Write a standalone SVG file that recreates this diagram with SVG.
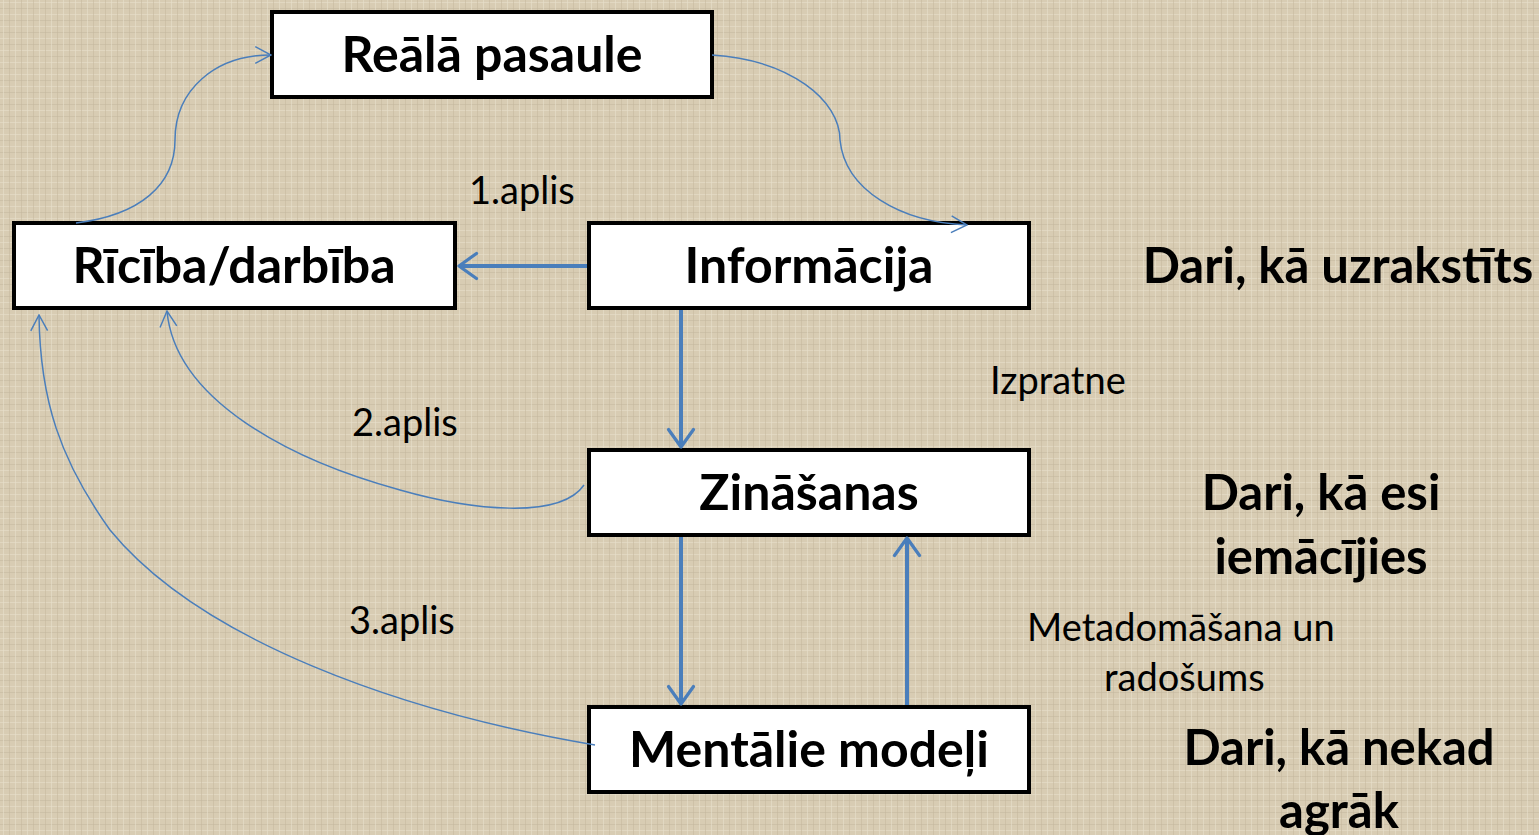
<svg xmlns="http://www.w3.org/2000/svg" width="1539" height="835" viewBox="0 0 1539 835">
<defs>
<pattern id="linen" width="12" height="12" patternUnits="userSpaceOnUse">
<rect width="12" height="12" fill="#d8ccb3"/>
<rect x="0" y="2" width="12" height="1" fill="#e6dcc8" opacity="0.7"/>
<rect x="0" y="8" width="12" height="1" fill="#c6b9a0" opacity="0.6"/>
<rect x="3" y="0" width="1" height="12" fill="#e8dfcc" opacity="0.6"/>
<rect x="9" y="0" width="1" height="12" fill="#c4b69c" opacity="0.5"/>
</pattern>
<marker id="thick" viewBox="0 0 12 12" refX="11" refY="6" markerWidth="7.5" markerHeight="7.5" orient="auto" markerUnits="strokeWidth">
<path d="M4,1 L11,6 L4,11" fill="none" stroke="#4a7ebb" stroke-width="1.3" stroke-linecap="round" stroke-linejoin="round"/>
</marker>
<marker id="thin" viewBox="0 0 20 20" refX="19" refY="10" markerWidth="14" markerHeight="14" orient="auto" markerUnits="strokeWidth">
<path d="M4,2 L19,10 L4,18" fill="none" stroke="#4a7ebb" stroke-width="1.4"/>
</marker>
</defs>
<style>
.box{fill:#ffffff;stroke:#000000;stroke-width:4}
.bt{font-family:Lato,"Open Sans","Noto Sans",sans-serif;font-weight:bold;font-size:50px;fill:#000;text-anchor:middle}
.side{font-family:Lato,"Open Sans","Noto Sans",sans-serif;font-weight:bold;font-size:49px;fill:#000;text-anchor:middle}
.lbl{font-family:Lato,"Open Sans","Noto Sans",sans-serif;font-size:38px;fill:#000}
.thk{fill:none;stroke:#4a7ebb;stroke-width:4;marker-end:url(#thick)}
.thn{fill:none;stroke:#4a7ebb;stroke-width:1.5;marker-end:url(#thin)}
</style>
<rect width="1539" height="835" fill="url(#linen)"/>
<g id="node-reala">
<rect class="box" x="272" y="12" width="440" height="85"/>
<text class="bt" x="492" y="72">Reālā pasaule</text>
</g>
<g id="node-riciba">
<rect class="box" x="14" y="223" width="441" height="85"/>
<text class="bt" x="234" y="283">Rīcība/darbība</text>
</g>
<g id="node-informacija">
<rect class="box" x="589" y="223" width="440" height="85"/>
<text class="bt" x="809" y="283">Informācija</text>
</g>
<g id="node-zinasanas">
<rect class="box" x="589" y="450" width="440" height="85"/>
<text class="bt" x="809" y="510">Zināšanas</text>
</g>
<g id="node-mentalie">
<rect class="box" x="589" y="707" width="440" height="85"/>
<text class="bt" x="809" y="767">Mentālie modeļi</text>
</g>
<g id="connectors">
<path class="thk" d="M587,266 L459,266"/>
<path class="thk" d="M681,310 L681,447"/>
<path class="thk" d="M681,537 L681,704"/>
<path class="thk" d="M907,705 L907,538"/>
<path class="thn" d="M76,223 C140,215 175,185 175,140 C175,90 215,55 271,55"/>
<path class="thn" d="M712,55 C790,60 840,100 840,140 C845,190 900,222 967,225"/>
<path class="thn" d="M584,485 C560,520 470,510 400,490 C290,460 175,400 167,311"/>
<path class="thn" d="M595,745 C400,712 200,640 110,530 C60,460 40,400 39,315"/>
</g>
<g id="labels">
<text class="lbl" x="469" y="204">1.aplis</text>
<text class="lbl" x="990" y="394">Izpratne</text>
<text class="lbl" x="352" y="436">2.aplis</text>
<text class="lbl" x="349" y="634">3.aplis</text>
<text class="lbl" x="1027" y="641">Metadomāšana un</text>
<text class="lbl" x="1104" y="691">radošums</text>
<text class="side" x="1338" y="283">Dari, kā uzrakstīts</text>
<text class="side" x="1321" y="510">Dari, kā esi</text>
<text class="side" x="1321" y="574">iemācījies</text>
<text class="side" x="1339" y="765">Dari, kā nekad</text>
<text class="side" x="1339" y="828">agrāk</text>
</g>
</svg>
